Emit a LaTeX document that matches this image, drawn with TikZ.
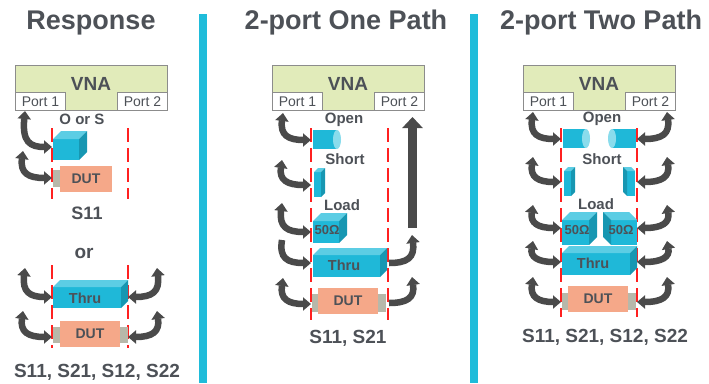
\documentclass[tikz,border=0pt]{standalone}
\usepackage{fontspec}
\setmainfont{Liberation Sans}
\usetikzlibrary{arrows.meta}

\definecolor{txtgray}{HTML}{4D5157}
\definecolor{vnagreen}{HTML}{E1EBBA}
\definecolor{boxgray}{HTML}{8C8C8C}
\definecolor{stdfront}{HTML}{1FB8D8}
\definecolor{stdtop}{HTML}{5CCDE4}
\definecolor{stdside}{HTML}{1797B2}
\definecolor{stdcap}{HTML}{8ADCEC}
\definecolor{dutorange}{HTML}{F5A889}
\definecolor{conngray}{HTML}{B7B8AA}
\definecolor{arrgray}{HTML}{4A4A4A}
\definecolor{sepcyan}{HTML}{1FBCDA}
\definecolor{planered}{HTML}{FF2020}

% cyan block, depth on the right: x0 y0 x1 y1 depth
\newcommand\blockR[5]{%
  \fill[stdfront] (#1,{#2+#5}) rectangle ({#3-#5},#4);
  \fill[stdtop] (#1,{#2+#5}) -- ({#1+#5},#2) -- (#3,#2) -- ({#3-#5},{#2+#5}) -- cycle;
  \fill[stdside] ({#3-#5},{#2+#5}) -- (#3,#2) -- (#3,{#4-#5}) -- ({#3-#5},#4) -- cycle;}
% same block, depth on the left
\newcommand\blockL[5]{%
  \fill[stdfront] ({#1+#5},{#2+#5}) rectangle (#3,#4);
  \fill[stdtop] (#1,#2) -- ({#3-#5},#2) -- (#3,{#2+#5}) -- ({#1+#5},{#2+#5}) -- cycle;
  \fill[stdside] (#1,#2) -- ({#1+#5},{#2+#5}) -- ({#1+#5},#4) -- (#1,{#4-#5}) -- cycle;}
% open standard, cap on the right / on the left
\newcommand\openR[4]{%
  \fill[stdfront] (#1,#2) rectangle ({#3-4},#4);
  \fill[stdcap] ({#3-4},{(#2+#4)/2}) ellipse [x radius=4pt, y radius=9.5pt];}
\newcommand\openL[4]{%
  \fill[stdfront] ({#1+4},#2) rectangle (#3,#4);
  \fill[stdcap] ({#1+4},{(#2+#4)/2}) ellipse [x radius=4pt, y radius=9.5pt];}
% bent arrows: top end, plane end
\newcommand\larr[5][<->]{%
  \draw[flow,#1] (#2,#3) .. controls ({#2-3},{#5-5}) and ({#2+5},#5) .. (#4,#5);}
\newcommand\rarr[5][<->]{%
  \draw[flow,#1] (#2,#3) .. controls ({#4-5},#3) and ({#4+3},{#3-5}) .. (#4,#5);}

\begin{document}
\begin{tikzpicture}[x=1pt,y=-1pt,>={Triangle[length=8pt,width=13pt]},
    ttl/.style={text=txtgray,font=\bfseries\fontsize{27}{30}\selectfont},
    res/.style={text=txtgray,font=\bfseries\fontsize{19}{22}\selectfont},
    lbl/.style={text=txtgray,font=\bfseries\fontsize{15}{17}\selectfont},
    stdtxt/.style={text=txtgray,font=\bfseries\fontsize{14.5}{16}\selectfont},
    ohm/.style={text=txtgray,font=\bfseries\fontsize{13}{15}\selectfont,inner sep=0pt},
    vnabox/.style={draw=boxgray,fill=vnagreen,line width=1pt,minimum width=152pt,minimum height=45pt,inner sep=0pt},
    port/.style={draw=boxgray,fill=white,line width=1pt,minimum width=50pt,minimum height=18pt,inner sep=0pt,
      text=txtgray,font=\fontsize{14}{16}\selectfont},
    dutbox/.style={fill=dutorange,inner sep=0pt,text=txtgray,font=\bfseries\fontsize{14}{16}\selectfont},
    refplane/.style={planered,line width=2pt,dash pattern=on 14pt off 6pt},
    flow/.style={draw=arrgray,line width=6.5pt}]
\useasboundingbox (0,0) rectangle (709,383);

% dividers and headings
\fill[sepcyan] (199,14) rectangle (207,383);
\fill[sepcyan] (470,14) rectangle (478,383);
\node[ttl] (ttlresp) at (91,23) {Response};
\node[ttl] (ttlone) at (346,23) {2-port One Path};
\node[ttl] (ttltwo) at (601,23) {2-port Two Path};

% analyser with its two ports
\foreach \x/\n in {15/a,272/b,523/c}{
  \node[vnabox,anchor=north west] (vna\n) at (\x,65) {};
  \node[text=txtgray,font=\bfseries\fontsize{19}{21}\selectfont] (vnatxt\n) at ({\x+76},84) {VNA};
  \node[port,anchor=south west] (p1\n) at (vna\n.south west) {Port 1};
  \node[port,anchor=south east] (p2\n) at (vna\n.south east) {Port 2};
}

% reference planes
\foreach \x/\a/\b in {52/128/199,128/128/199,52/265/348,128/265/348,
                      311/128/320,388/128/320,561/128/317,637/128/317}
  \draw[refplane] (\x,\a) -- (\x,\b);

%% response
\node[lbl] (oors) at (82,119) {O or S};
\blockR{53}{131}{87}{160}{8}
\fill[conngray] (53,170) rectangle (60,187);
\node[dutbox,minimum width=52pt,minimum height=26pt] (duta) at (86,179) {DUT};
\node[res,font=\bfseries\fontsize{18}{21}\selectfont] (resa) at (87,213) {S11};
\node[res] (ora) at (84,253) {or};
\blockR{53}{280}{128}{308}{7}
\node[stdtxt] (thrua) at (85,298) {Thru};
\fill[conngray] (53,327) rectangle (128,343);
\node[dutbox,minimum width=60pt,minimum height=26pt] (dutaa) at (90,334) {DUT};
\node[res] (resaa) at (97,372) {S11, S21, S12, S22};
\larr{25}{111}{52}{147}
\larr{23}{151}{52}{178}
\larr{25}{268}{52}{297}
\larr{23}{311}{52}{337}
\rarr{128}{297}{157}{268}
\rarr{128}{337}{157}{311}

%% one path
\node[lbl] (openb) at (344,120) {Open};
\openR{313}{130}{341}{149}
\node[lbl] (shortb) at (345,159) {Short};
\blockR{314}{168}{325}{197}{4}
\node[lbl] (loadb) at (342,205) {Load};
\blockR{313}{213}{347}{243}{8}
\node[ohm] (ohmb) at (327,230) {50Ω};
\blockR{313}{248}{387}{277}{7}
\node[stdtxt] (thrub) at (344,265) {Thru};
\fill[conngray] (312,294) rectangle (386,312);
\node[dutbox,minimum width=60pt,minimum height=26pt] (dutb) at (348,301) {DUT};
\node[res] (resb) at (348,338) {S11, S21};
\larr{283}{113}{311}{140}
\larr{282}{160}{311}{185}
\larr{282}{203}{311}{232}
\larr[->]{282}{240}{311}{263}
\larr{283}{278}{311}{304}
\rarr[->]{389}{263}{412}{235}
\rarr[->]{389}{303}{412}{277}
\draw[draw=arrgray,line width=9pt,-{Triangle[length=11pt,width=20pt]}] (412.5,228) -- (412.5,117);

%% two path
\node[lbl] (openc) at (602,119) {Open};
\openR{563}{129}{590}{148}
\openL{608}{129}{636}{148}
\node[lbl] (shortc) at (602,159) {Short};
\blockR{564}{167}{575}{196}{4}
\blockL{623}{167}{635}{196}{4}
\node[lbl] (loadc) at (596,204) {Load};
\blockR{562}{212}{597}{245}{8}
\blockL{603}{212}{637}{245}{8}
\node[ohm] (ohmc) at (577,230) {50Ω};
\node[ohm] (ohmcc) at (621,230) {50Ω};
\blockR{562}{246}{637}{275}{7}
\node[stdtxt] (thruc) at (593,263) {Thru};
\fill[conngray] (562,293) rectangle (636,310);
\node[dutbox,minimum width=60pt,minimum height=26pt] (dutc) at (598,299) {DUT};
\node[res] (resc) at (605,337) {S11, S21, S12, S22};
\foreach \a/\b in {112/139,157/182,205/228,241/262,277/302}{
  \larr{533}{\a}{561}{\b}
  \rarr{637}{\b}{667}{\a}
}
\end{tikzpicture}
\end{document}
